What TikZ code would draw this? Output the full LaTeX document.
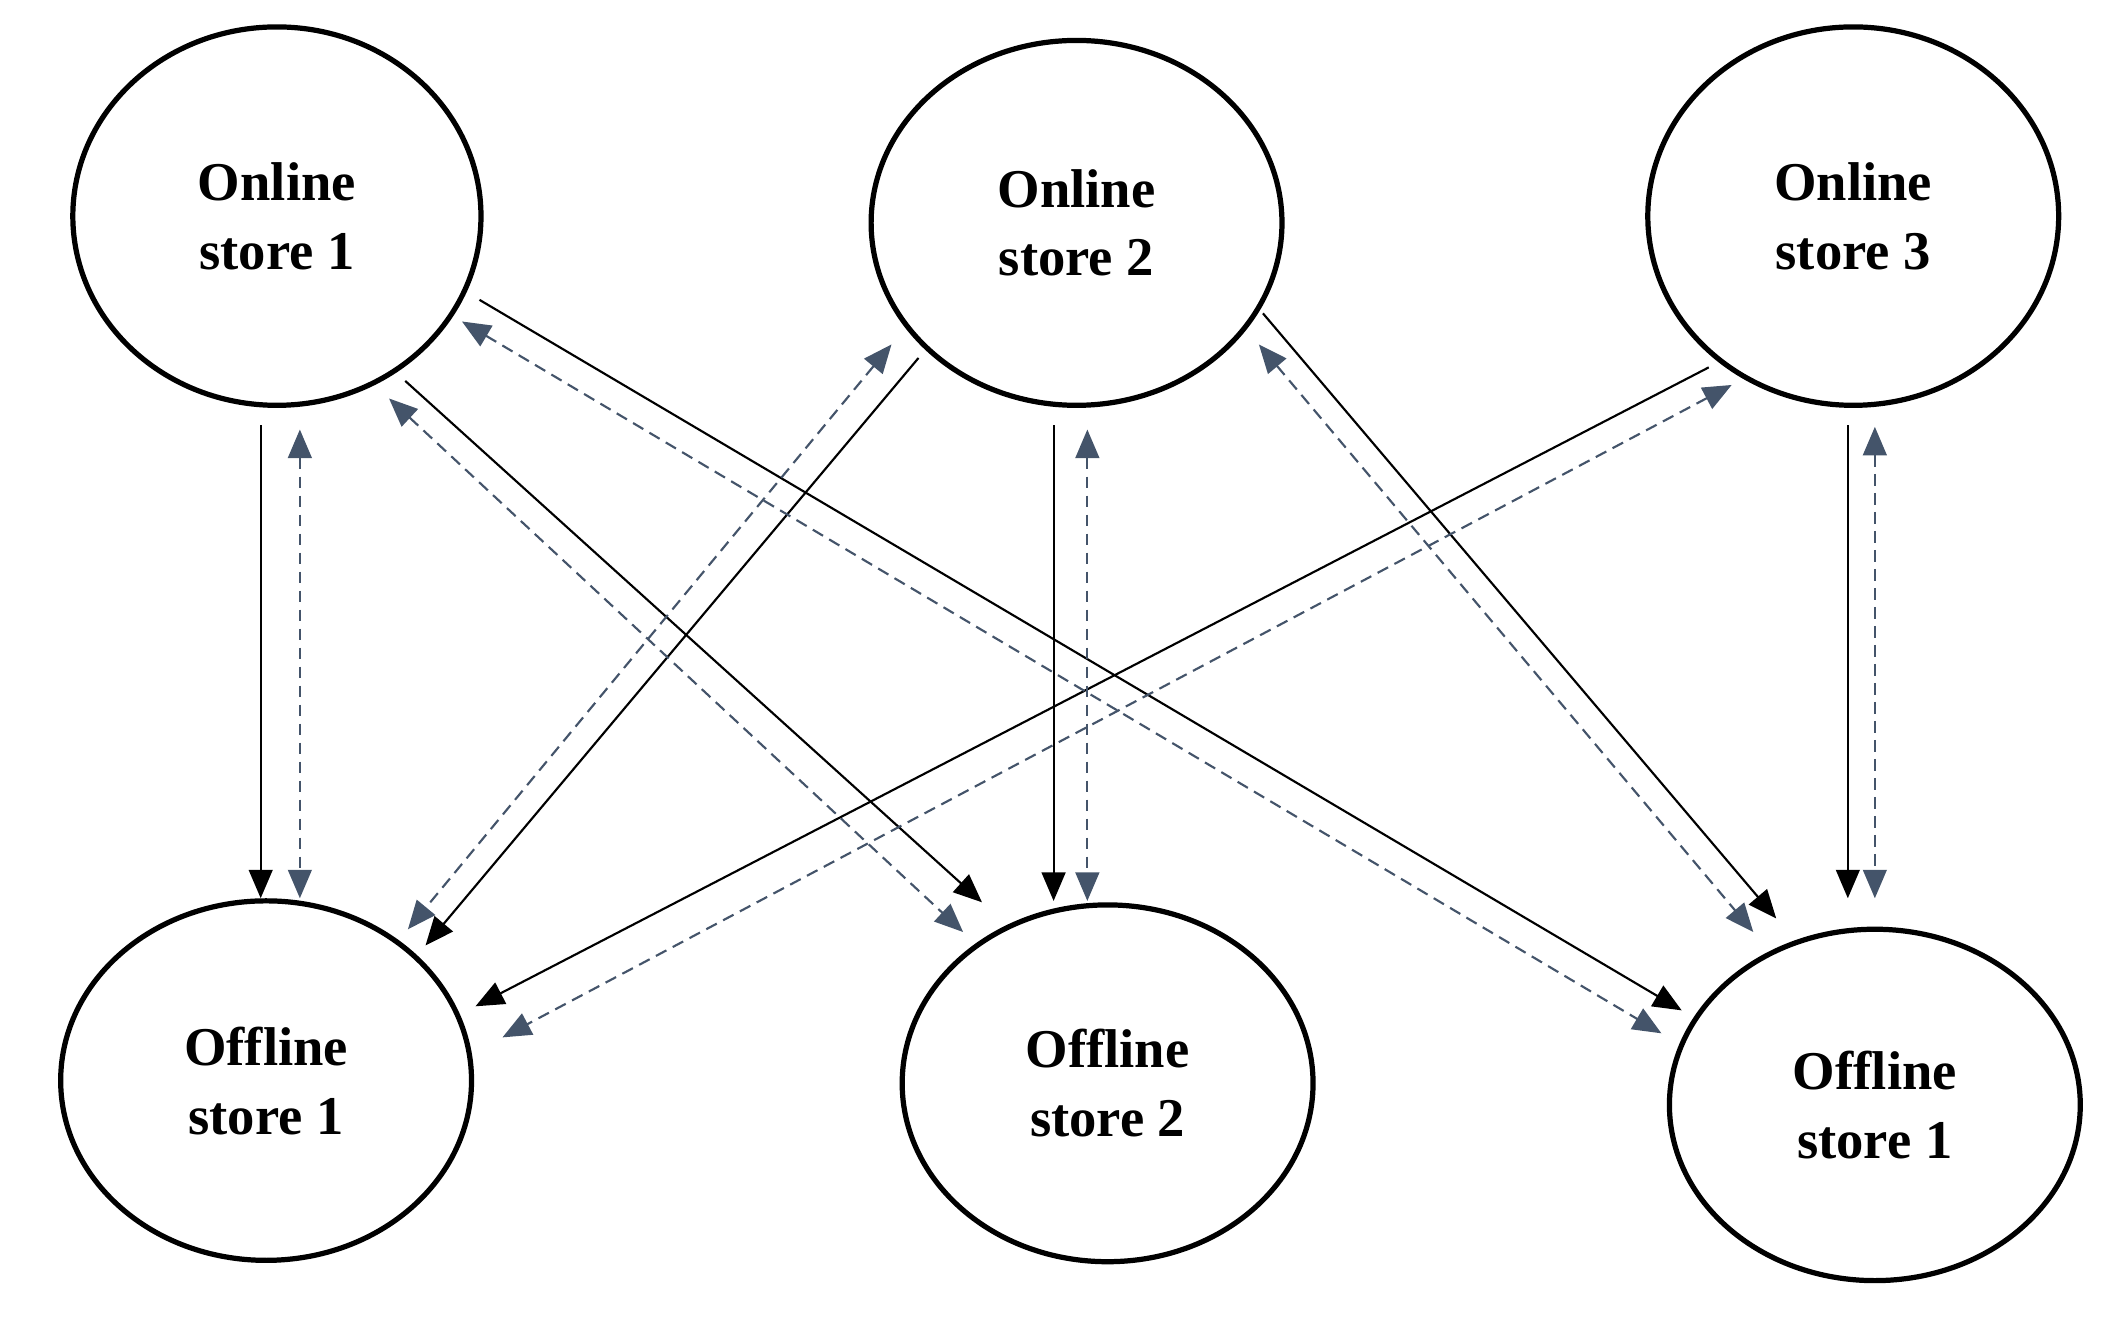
\documentclass[tikz,border=0pt]{standalone}
\usepackage{fontspec}
\setmainfont{Liberation Serif}
\usetikzlibrary{shapes.geometric,arrows.meta}
\definecolor{dgray}{HTML}{44546A}
\begin{document}
\begin{tikzpicture}[x=0.01cm,y=-0.01cm,
  st/.style={ellipse,draw,line width=1.1pt,inner sep=0pt,font=\bfseries\fontsize{11.5}{14.5}\selectfont,align=center},
  sol/.style={line width=0.45pt,-{Triangle[length=6pt,width=5pt]}},
  das/.style={line width=0.45pt,draw=dgray,dash pattern=on 2.5pt off 1.5pt,{Triangle[length=6pt,width=5pt,fill=dgray]}-{Triangle[length=6pt,width=5pt,fill=dgray]}}]
\useasboundingbox (0,0) rectangle (1568,982);
\node[st,minimum width=3.02cm,minimum height=2.8cm] (on1) at (205,160) {Online\\store 1};
\node[st,minimum width=3.04cm,minimum height=2.7cm] (on2) at (797,165) {Online\\store 2};
\node[st,minimum width=3.04cm,minimum height=2.8cm] (on3) at (1372,160) {Online\\store 3};
\node[st,minimum width=3.04cm,minimum height=2.66cm] (off1) at (197,800) {Offline\\store 1};
\node[st,minimum width=3.04cm,minimum height=2.64cm] (off2) at (820,802) {Offline\\store 2};
\node[st,minimum width=3.04cm,minimum height=2.6cm] (off3) at (1388,818) {Offline\\store 1};
% solid
\foreach \a/\b/\c/\d in {193/315/193/665, 300/282/727/668, 355/222/1245/748, 680/265/315/700,
  780/315/780/667, 935/232/1315/680, 1265/272/352/745, 1368/315/1368/665}
  {\coordinate (s) at (\a,\b); \coordinate (e) at (\c,\d); \draw[sol] (s) -- (e);}
% dashed
\foreach \a/\b/\c/\d in {222/318/222/665, 288/295/713/690, 342/238/1230/765, 660/255/302/688,
  805/318/805/667, 932/255/1298/690, 1282/285/372/768, 1388/316/1388/665}
  {\coordinate (s) at (\a,\b); \coordinate (e) at (\c,\d); \draw[das] (s) -- (e);}
\end{tikzpicture}
\end{document}
